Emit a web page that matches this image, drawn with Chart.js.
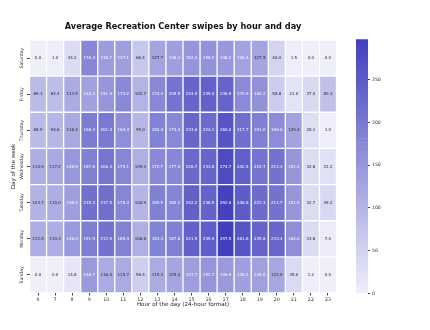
<!DOCTYPE html>
<html>
<head>
<meta charset="utf-8">
<script src="https://cdn.jsdelivr.net/npm/chart.js@4.4.0/dist/chart.umd.min.js"></script>
<style>
  body { margin: 0; background: #fff; }
  #wrap { position: relative; width: 430px; height: 330px; }
  #heat { position: absolute; left: 0; top: 0; }
  #cbar { position: absolute; left: 340px; top: 0; }
</style>
</head>
<body>
<div id="wrap">
  <canvas id="heat" width="430" height="330"></canvas>
  <canvas id="cbar" width="90" height="330"></canvas>
</div>
<script>
// hours on x, days from top row to bottom row
const hours = ['6','7','8','9','10','11','12','13','14','15','16','17','18','19','20','21','22','23'];
const days = ['Saturday','Friday','Thursday','Wednesday','Tuesday','Monday','Sunday'];

const saturday  = [0.0, 1.0, 34.2, 176.3, 138.7, 137.1, 66.4, 127.7, 136.1, 152.4, 158.1, 148.2, 130.4, 127.5, 46.0, 1.5, 0.0, 0.0];
const friday    = [89.1, 84.4, 113.5, 133.2, 151.4, 174.2, 102.7, 174.3, 209.5, 234.9, 239.4, 236.9, 170.9, 160.2, 58.8, 21.0, 37.0, 80.3];
const thursday  = [88.9, 94.6, 118.4, 196.3, 201.4, 164.4, 95.0, 184.4, 174.3, 233.6, 224.1, 260.0, 217.7, 191.0, 168.0, 129.4, 28.1, 1.0];
const wednesday = [110.9, 117.2, 148.9, 187.6, 206.3, 179.1, 109.3, 172.7, 177.5, 226.7, 233.8, 274.7, 242.5, 210.7, 212.3, 151.4, 32.6, 22.2];
const tuesday   = [103.7, 110.0, 138.4, 215.3, 217.5, 178.3, 100.9, 189.5, 180.2, 242.2, 238.5, 292.6, 248.8, 222.3, 212.7, 151.9, 32.7, 39.2];
const monday    = [112.5, 110.3, 146.0, 191.9, 212.9, 185.4, 108.6, 183.3, 187.8, 241.5, 245.9, 297.5, 261.8, 235.8, 233.4, 164.0, 33.6, 7.0];
const sunday    = [0.0, 0.0, 14.8, 146.7, 116.4, 115.7, 56.4, 115.3, 125.2, 137.7, 152.7, 146.9, 136.2, 135.0, 122.9, 35.0, 1.2, 0.0];

const rows = [saturday, friday, thursday, wednesday, tuesday, monday, sunday];
const colorTicks = [0, 50, 100, 150, 200, 250];

const FONT = "'DejaVu Sans', sans-serif";
const vmax = Math.max(...rows.flat());

// light lavender -> blue purple
const lo = [239, 239, 250];
const hi = [64, 64, 190];
function mix(v) {
  const t = Math.max(0, Math.min(1, v / vmax));
  return lo.map((c, i) => Math.round(c + (hi[i] - c) * t));
}
function cellColor(v) {
  const c = mix(v);
  return 'rgb(' + c[0] + ',' + c[1] + ',' + c[2] + ')';
}
function lum(v) {
  const c = mix(v).map(x => {
    x = x / 255;
    return x <= 0.03928 ? x / 12.92 : Math.pow((x + 0.055) / 1.055, 2.4);
  });
  return 0.2126 * c[0] + 0.7152 * c[1] + 0.0722 * c[2];
}

const datasets = rows.map((vals, r) => ({
  label: days[r],
  data: vals.map(() => [6 - r, 7 - r]),
  values: vals,
  backgroundColor: vals.map(cellColor),
  borderColor: 'rgba(255,255,255,0.35)',
  borderWidth: 1,
  borderSkipped: false,
  grouped: false,
  barPercentage: 1,
  categoryPercentage: 1
}));

// numbers in cells, y labels and the title
const heatText = {
  id: 'heatText',
  afterDatasetsDraw(chart) {
    const ctx = chart.ctx;
    ctx.save();
    ctx.textAlign = 'center';
    ctx.textBaseline = 'middle';
    ctx.font = '4px ' + FONT;
    chart.data.datasets.forEach((ds, i) => {
      chart.getDatasetMeta(i).data.forEach((bar, j) => {
        const v = ds.values[j];
        ctx.fillStyle = lum(v) > 0.392 ? '#262626' : '#ffffff';
        ctx.fillText(v.toFixed(1), bar.x, (bar.y + bar.base) / 2);
      });
    });
    const ys = chart.scales.y;
    ctx.fillStyle = '#333';
    ctx.font = '4.6px ' + FONT;
    days.forEach((d, r) => {
      ctx.save();
      ctx.translate(ys.right - 7.5, ys.getPixelForValue(6.5 - r));
      ctx.rotate(-Math.PI / 2);
      ctx.fillText(d, 0, 0);
      ctx.restore();
    });
    const a = chart.chartArea;
    ctx.fillStyle = '#111';
    ctx.font = 'bold 8.2px ' + FONT;
    ctx.fillText('Average Recreation Center swipes by hour and day', (a.left + a.right) / 2, 27);
    ctx.restore();
  }
};

new Chart(document.getElementById('heat'), {
  type: 'bar',
  data: { labels: hours, datasets: datasets },
  plugins: [heatText],
  options: {
    responsive: false,
    animation: false,
    devicePixelRatio: 1,
    layout: { padding: { top: 40, right: 93.5, bottom: 0, left: 0 } },
    plugins: { legend: { display: false }, tooltip: { enabled: false }, title: { display: false } },
    scales: {
      x: {
        type: 'category',
        afterFit: s => { s.height = 37; },
        grid: { offset: false, drawOnChartArea: false, tickLength: 2.5, color: '#444' },
        border: { display: false },
        ticks: { font: { family: FONT, size: 4.8 }, color: '#333', padding: 1, maxRotation: 0, autoSkip: false },
        title: { display: true, text: 'Hour of the day (24-hour format)', font: { family: FONT, size: 5.6 }, color: '#222', padding: { top: 0, bottom: 22 } }
      },
      y: {
        type: 'linear',
        min: 0,
        max: 7,
        afterFit: s => { s.width = 29.5; },
        afterBuildTicks: s => { s.ticks = [0.5, 1.5, 2.5, 3.5, 4.5, 5.5, 6.5].map(v => ({ value: v })); },
        grid: { drawOnChartArea: false, tickLength: 2.5, color: '#444' },
        border: { display: false },
        ticks: { display: false },
        title: { display: true, text: 'Day of the week', font: { family: FONT, size: 5.6 }, color: '#222', padding: { top: 9.7, bottom: 0 } }
      }
    }
  }
});

// colour bar
const nSeg = 64;
const segs = [];
for (let k = 0; k < nSeg; k++) {
  const a = vmax * k / nSeg, b = vmax * (k + 1) / nSeg;
  segs.push({
    data: [[a, b]],
    backgroundColor: cellColor((a + b) / 2),
    borderWidth: 0,
    grouped: false,
    barPercentage: 1,
    categoryPercentage: 1
  });
}

new Chart(document.getElementById('cbar'), {
  type: 'bar',
  data: { labels: [''], datasets: segs },
  options: {
    responsive: false,
    animation: false,
    devicePixelRatio: 1,
    layout: { padding: { top: 39.3, right: 0, bottom: 36.7, left: 16 } },
    plugins: { legend: { display: false }, tooltip: { enabled: false } },
    scales: {
      x: { display: false },
      y: {
        position: 'right',
        min: 0,
        max: vmax,
        afterFit: s => { s.width = 62; },
        afterBuildTicks: s => { s.ticks = colorTicks.map(v => ({ value: v })); },
        grid: { drawOnChartArea: false, tickLength: 2, color: '#444' },
        border: { display: false },
        ticks: { font: { family: FONT, size: 4.6 }, color: '#333', padding: 2 }
      }
    }
  }
});
</script>
</body>
</html>
